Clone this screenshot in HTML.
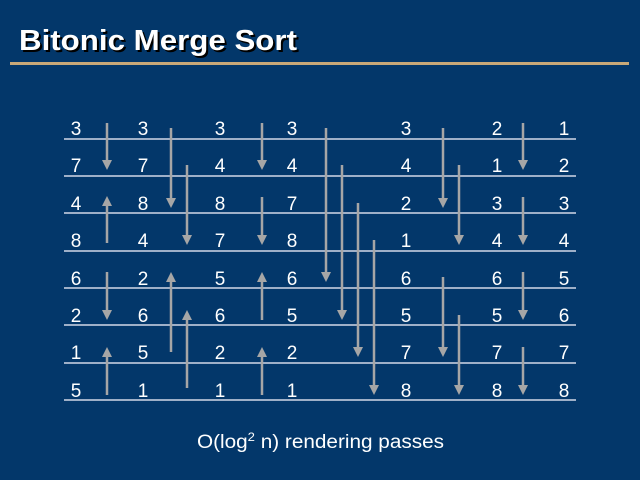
<!DOCTYPE html>
<html><head><meta charset="utf-8"><style>
html,body{margin:0;padding:0;background:#03376a;}
svg{display:block}
</style></head><body>
<svg width="640" height="480" viewBox="0 0 640 480" xmlns="http://www.w3.org/2000/svg">
<rect width="640" height="480" fill="#03376a"/>
<text x="21" y="52" font-family="Liberation Sans, sans-serif" font-weight="bold" font-size="29" fill="#000" textLength="278" lengthAdjust="spacingAndGlyphs">Bitonic Merge Sort</text>
<text x="19" y="50" font-family="Liberation Sans, sans-serif" font-weight="bold" font-size="29" fill="#fff" textLength="278" lengthAdjust="spacingAndGlyphs">Bitonic Merge Sort</text>
<rect x="10" y="62" width="619" height="3" fill="#c8a878"/>
<g stroke="#9fb0c8" stroke-width="2">
<line x1="64" y1="139" x2="576" y2="139"/>
<line x1="64" y1="176" x2="576" y2="176"/>
<line x1="64" y1="213" x2="576" y2="213"/>
<line x1="64" y1="251" x2="576" y2="251"/>
<line x1="64" y1="288" x2="576" y2="288"/>
<line x1="64" y1="325" x2="576" y2="325"/>
<line x1="64" y1="363" x2="576" y2="363"/>
<line x1="64" y1="400" x2="576" y2="400"/>
</g>
<g font-family="Liberation Sans, sans-serif" font-size="19" fill="#fff" text-anchor="middle">
<g id="c"></g>
<text x="76" y="135">3</text><text x="76" y="172">7</text><text x="76" y="210">4</text><text x="76" y="247">8</text><text x="76" y="285">6</text><text x="76" y="322">2</text><text x="76" y="359">1</text><text x="76" y="397">5</text>
<text x="143" y="135">3</text><text x="143" y="172">7</text><text x="143" y="210">8</text><text x="143" y="247">4</text><text x="143" y="285">2</text><text x="143" y="322">6</text><text x="143" y="359">5</text><text x="143" y="397">1</text>
<text x="220" y="135">3</text><text x="220" y="172">4</text><text x="220" y="210">8</text><text x="220" y="247">7</text><text x="220" y="285">5</text><text x="220" y="322">6</text><text x="220" y="359">2</text><text x="220" y="397">1</text>
<text x="292" y="135">3</text><text x="292" y="172">4</text><text x="292" y="210">7</text><text x="292" y="247">8</text><text x="292" y="285">6</text><text x="292" y="322">5</text><text x="292" y="359">2</text><text x="292" y="397">1</text>
<text x="406" y="135">3</text><text x="406" y="172">4</text><text x="406" y="210">2</text><text x="406" y="247">1</text><text x="406" y="285">6</text><text x="406" y="322">5</text><text x="406" y="359">7</text><text x="406" y="397">8</text>
<text x="497" y="135">2</text><text x="497" y="172">1</text><text x="497" y="210">3</text><text x="497" y="247">4</text><text x="497" y="285">6</text><text x="497" y="322">5</text><text x="497" y="359">7</text><text x="497" y="397">8</text>
<text x="564" y="135">1</text><text x="564" y="172">2</text><text x="564" y="210">3</text><text x="564" y="247">4</text><text x="564" y="285">5</text><text x="564" y="322">6</text><text x="564" y="359">7</text><text x="564" y="397">8</text>
</g>
<g stroke="#a6a6a6" stroke-width="2.5" fill="#a6a6a6">
<!-- down arrows: line x, y1..y2 (tip) -->
<line x1="107" y1="123" x2="107" y2="162"/><polygon stroke="none" points="102,160 112,160 107,170"/>
<line x1="107" y1="243" x2="107" y2="204"/><polygon stroke="none" points="102,206 112,206 107,196"/>
<line x1="107" y1="272" x2="107" y2="312"/><polygon stroke="none" points="102,310 112,310 107,320"/>
<line x1="107" y1="395" x2="107" y2="355"/><polygon stroke="none" points="102,357 112,357 107,347"/>

<line x1="171" y1="128" x2="171" y2="200"/><polygon stroke="none" points="166,198 176,198 171,208"/>
<line x1="187" y1="165" x2="187" y2="237"/><polygon stroke="none" points="182,235 192,235 187,245"/>
<line x1="171" y1="352" x2="171" y2="280"/><polygon stroke="none" points="166,282 176,282 171,272"/>
<line x1="187" y1="388" x2="187" y2="318"/><polygon stroke="none" points="182,320 192,320 187,310"/>

<line x1="262" y1="123" x2="262" y2="162"/><polygon stroke="none" points="257,160 267,160 262,170"/>
<line x1="262" y1="197" x2="262" y2="237"/><polygon stroke="none" points="257,235 267,235 262,245"/>
<line x1="262" y1="320" x2="262" y2="280"/><polygon stroke="none" points="257,282 267,282 262,272"/>
<line x1="262" y1="395" x2="262" y2="355"/><polygon stroke="none" points="257,357 267,357 262,347"/>

<line x1="326" y1="128" x2="326" y2="274"/><polygon stroke="none" points="321,272 331,272 326,282"/>
<line x1="342" y1="165" x2="342" y2="312"/><polygon stroke="none" points="337,310 347,310 342,320"/>
<line x1="358" y1="203" x2="358" y2="349"/><polygon stroke="none" points="353,347 363,347 358,357"/>
<line x1="374" y1="240" x2="374" y2="387"/><polygon stroke="none" points="369,385 379,385 374,395"/>

<line x1="443" y1="128" x2="443" y2="200"/><polygon stroke="none" points="438,198 448,198 443,208"/>
<line x1="459" y1="165" x2="459" y2="237"/><polygon stroke="none" points="454,235 464,235 459,245"/>
<line x1="443" y1="277" x2="443" y2="349"/><polygon stroke="none" points="438,347 448,347 443,357"/>
<line x1="459" y1="315" x2="459" y2="387"/><polygon stroke="none" points="454,385 464,385 459,395"/>

<line x1="523" y1="123" x2="523" y2="162"/><polygon stroke="none" points="518,160 528,160 523,170"/>
<line x1="523" y1="197" x2="523" y2="237"/><polygon stroke="none" points="518,235 528,235 523,245"/>
<line x1="523" y1="272" x2="523" y2="312"/><polygon stroke="none" points="518,310 528,310 523,320"/>
<line x1="523" y1="347" x2="523" y2="387"/><polygon stroke="none" points="518,385 528,385 523,395"/>
</g>
<text x="197" y="448" font-family="Liberation Sans, sans-serif" font-size="19" fill="#fff" textLength="247" lengthAdjust="spacingAndGlyphs">O(log<tspan font-size="12" dy="-7">2</tspan><tspan dy="7"> n) rendering passes</tspan></text>
</svg>
</body></html>
